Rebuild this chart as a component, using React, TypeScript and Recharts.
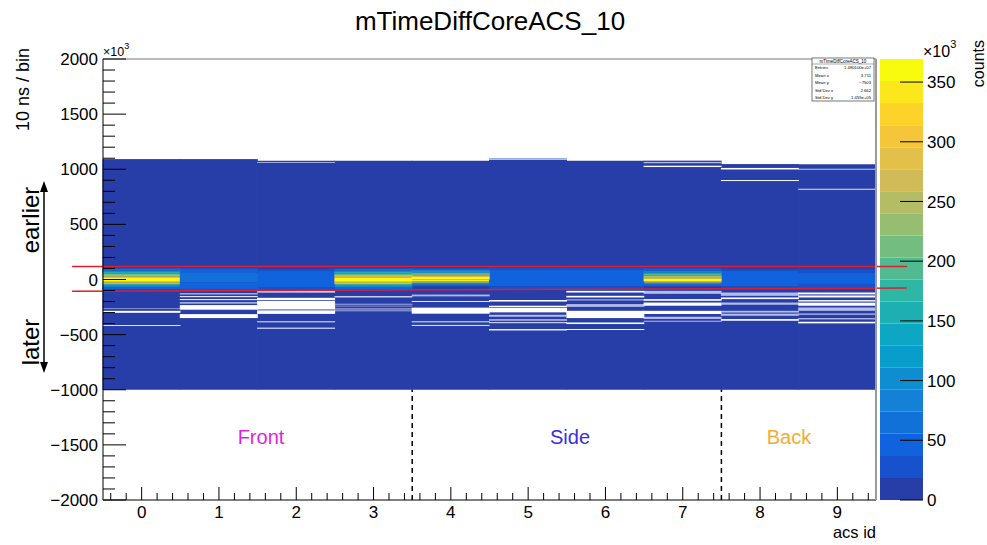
import React from 'react';
import { ComposedChart, BarChart, Bar, Cell, XAxis, YAxis, ReferenceLine } from 'recharts';

const W = 987;
const H = 545;
const FONT = '"Liberation Sans", Arial, Helvetica, sans-serif';

// ---------------- data ----------------
const acsIds = [0, 1, 2, 3, 4, 5, 6, 7, 8, 9];
const histBottom = -1000; // ×10³ (10 ns / bin)
const columnTop = [1092, 1092, 1077, 1077, 1077, 1098, 1077, 1078, 1047, 1045];

// cells: [yLow, yHigh, level]; level = contour level 0..19, 'w' = empty bin, 'l' = almost empty
type CellSpec = [number, number, number | 'w' | 'l'];

const col0Cells: CellSpec[] = [
  [-422, -414, 'w'], [-302, -284, 'w'], [-268, -262, 'l'],
  [-88, -70, 2], [-70, -55, 4], [-55, -42, 8], [-42, -28, 13], [-28, -15, 17], [-15, 15, 19],
  [15, 26, 17], [26, 40, 14], [40, 55, 11], [55, 68, 8], [68, 82, 5], [82, 100, 3],
];
const col1Cells: CellSpec[] = [
  [-350, -314, 'w'], [-274, -232, 'w'], [-217, -208, 'w'], [-187, -178, 'w'], [-160, -151, 'w'], [-136, -124, 'l'],
  [-103, -85, 1], [-85, -25, 2], [-25, 60, 3], [60, 95, 2], [95, 103, 1],
];
const col2Cells: CellSpec[] = [
  [-446, -437, 'w'], [-388, -380, 'w'], [-312, -280, 'w'], [-272, -195, 'w'], [-188, -166, 'w'], [-118, -106, 'w'],
  [-100, -70, 1], [-70, 80, 2], [80, 96, 1],
  [1058, 1066, 'l'],
];
const col3Cells: CellSpec[] = [
  [-288, -280, 'l'], [-272, -262, 'l'], [-244, -238, 'l'], [-228, -220, 'l'], [-162, -152, 'w'],
  [-88, -70, 2], [-70, -55, 5], [-55, -42, 9], [-42, -28, 14], [-28, -15, 18], [-15, 18, 19],
  [18, 30, 17], [30, 42, 14], [42, 55, 11], [55, 68, 8], [68, 82, 5], [82, 98, 3],
];
const col4Cells: CellSpec[] = [
  [-420, -412, 'w'], [-388, -380, 'w'], [-310, -255, 'w'], [-204, -196, 'w'], [-153, -148, 'l'], [-146, -138, 'w'],
  [-60, -45, 2], [-45, -30, 5], [-30, -15, 12], [-15, 0, 18], [0, 25, 19], [25, 35, 17],
  [35, 48, 13], [48, 62, 10], [62, 76, 7], [76, 90, 4], [90, 100, 2],
];
const col5Cells: CellSpec[] = [
  [-462, -450, 'w'], [-396, -388, 'w'], [-374, -360, 'l'], [-338, -320, 'l'], [-298, -256, 'w'], [-250, -238, 'w'], [-200, -186, 'w'],
  [-88, -60, 1], [-60, 90, 2], [90, 107, 1],
  [1084, 1098, 'l'],
];
const col6Cells: CellSpec[] = [
  [-458, -449, 'w'], [-404, -390, 'w'], [-350, -284, 'w'], [-248, -223, 'l'], [-190, -180, 'l'], [-163, -148, 'w'], [-118, -103, 'w'],
  [-88, -60, 1], [-60, 90, 2], [90, 107, 1],
];
const col7Cells: CellSpec[] = [
  [-383, -374, 'l'], [-358, -338, 'l'], [-313, -284, 'w'], [-238, -209, 'w'], [-193, -178, 'w'], [-130, -103, 'l'],
  [-60, -40, 2], [-40, -28, 6], [-28, -15, 14], [-15, 10, 19], [10, 20, 17], [20, 35, 13],
  [35, 50, 10], [50, 65, 7], [65, 80, 4], [80, 100, 2],
  [1020, 1032, 'w'], [1055, 1066, 'l'],
];
const col8Cells: CellSpec[] = [
  [-374, -359, 'w'], [-329, -310, 'l'], [-300, -284, 'l'], [-229, -209, 'l'], [-178, -163, 'w'], [-148, -118, 'l'],
  [-88, -60, 1], [-60, 80, 2], [80, 93, 1],
  [893, 902, 'w'], [998, 1012, 'w'],
];
const col9Cells: CellSpec[] = [
  [-398, -383, 'w'], [-362, -350, 'l'], [-320, -308, 'l'], [-284, -254, 'l'], [-238, -210, 'w'], [-200, -187, 'w'], [-163, -145, 'w'], [-135, -118, 'w'],
  [-88, -40, 1], [-40, 60, 2], [60, 93, 1],
  [815, 823, 'w'], [995, 1005, 'l'],
];
const columnCells = [col0Cells, col1Cells, col2Cells, col3Cells, col4Cells, col5Cells, col6Cells, col7Cells, col8Cells, col9Cells];

// ticks
const yMajorTicks = [-2000, -1500, -1000, -500, 0, 500, 1000, 1500, 2000];
const zTicks = [0, 50, 100, 150, 200, 250, 300, 350];
const zMax = 369.3; // ×10³ counts
const nLevels = 20;

// annotation lines (x in acs id, y in ×10³)
const cutLines = [
  [-0.9, 118, 9.9, 118],
  [-0.9, -106, 9.9, -78],
];
const groupBoundaries = [3.5, 7.5];

const statsRows = [
  ['Entries', '1.480100e+07'],
  ['Mean x', '3.711'],
  ['Mean y', '\u22127503'],
  ['Std Dev x', '2.662'],
  ['Std Dev y', '1.455e+05'],
];

// ---------------- colours (ROOT kBird palette) ----------------
const birdStops = [0, 0.125, 0.25, 0.375, 0.5, 0.625, 0.75, 0.875, 1];
const birdR = [0.2082, 0.0592, 0.078, 0.0232, 0.1802, 0.5301, 0.8186, 0.9956, 0.9764];
const birdG = [0.1664, 0.3599, 0.5041, 0.6419, 0.7178, 0.7492, 0.7328, 0.7862, 0.9832];
const birdB = [0.5293, 0.8684, 0.8385, 0.7914, 0.6425, 0.4662, 0.3499, 0.1968, 0.0539];
function bird(f: number) {
  let k = 0;
  while (k < birdStops.length - 2 && f > birdStops[k + 1]) k++;
  const t = (f - birdStops[k]) / (birdStops[k + 1] - birdStops[k]);
  const c = (a: number[]) => Math.round(255 * (a[k] + t * (a[k + 1] - a[k])));
  return `rgb(${c(birdR)},${c(birdG)},${c(birdB)})`;
}
function levelColor(i: number) {
  return bird(Math.floor(((i + 0.99) * 255) / nLevels) / 254);
}
const EMPTY = '#ffffff';
const PALE = '#b4bce8';
function cellColor(k: number | 'w' | 'l') {
  if (k === 'w') return EMPTY;
  if (k === 'l') return PALE;
  return levelColor(k);
}

// ---------------- build stacked tables ----------------
type Seg = { h: number; fill: string };
function buildSegments(cells: CellSpec[]): Seg[] {
  const sorted = [...cells].sort((a, b) => a[0] - b[0]);
  const segs: Seg[] = [];
  let cur = histBottom;
  for (const [lo, hi, k] of sorted) {
    const start = Math.max(lo, cur);
    if (start > cur) segs.push({ h: start - cur, fill: 'transparent' });
    if (hi > start) segs.push({ h: hi - start, fill: cellColor(k) });
    cur = Math.max(cur, hi);
  }
  return segs;
}
const segsByCol = columnCells.map(buildSegments);
const nSeg = Math.max(...segsByCol.map((s) => s.length));
const segKeys = Array.from({ length: nSeg }, (_, k) => `s${k}`);
const histData = acsIds.map((id, i) => {
  const row: Record<string, number> = {
    acs: id,
    baseA: histBottom,
    body: columnTop[i] - histBottom,
    baseB: histBottom,
  };
  segKeys.forEach((key, k) => {
    row[key] = segsByCol[i][k] ? segsByCol[i][k].h : 0;
  });
  return row;
});

const levelKeys = Array.from({ length: nLevels }, (_, i) => `z${i}`);
const paletteRow: Record<string, number | string> = { name: 'palette' };
levelKeys.forEach((k) => {
  paletteRow[k] = zMax / nLevels;
});
const paletteData = [paletteRow];

const xTickValues: number[] = [];
for (let k = -2; k <= 47; k++) xTickValues.push(k / 5);
const yTickValues: number[] = [];
for (let v = -2000; v <= 2000; v += 100) yTickValues.push(v);

const fmt = (v: number) => (v < 0 ? `\u2212${Math.abs(v)}` : `${v}`);

// bins are drawn slightly wider than the (integer-truncated) bar width so neighbouring bins touch
const BinShape = (p: any) => {
  if (!p || !(p.height > 0) || p.fill === 'transparent') return <g />;
  return <rect x={p.x - 0.5} y={p.y} width={p.width + 1} height={p.height} fill={p.fill} />;
};

// ---------------- tick renderers ----------------
const XTick = (props: any) => {
  const { x, y, payload } = props;
  const v = payload.value as number;
  const major = Math.abs(v - Math.round(v)) < 1e-6;
  return (
    <g>
      <line x1={x} x2={x} y1={y} y2={y - (major ? 13 : 7)} stroke="#000" strokeWidth={1} />
      {major && (
        <text x={x} y={y + 18} textAnchor="middle" fontSize={17} fontFamily={FONT} fill="#000">
          {Math.round(v)}
        </text>
      )}
    </g>
  );
};
const YTick = (props: any) => {
  const { x, y, payload } = props;
  const v = payload.value as number;
  const major = yMajorTicks.includes(v);
  return (
    <g>
      <line x1={x} x2={x + (major ? 23 : 12)} y1={y} y2={y} stroke="#000" strokeWidth={1} />
      {major && (
        <text x={x - 5} y={y} dy="0.36em" textAnchor="end" fontSize={17} fontFamily={FONT} fill="#000">
          {fmt(v)}
        </text>
      )}
    </g>
  );
};
const ZTick = (props: any) => {
  const { x, y, payload } = props;
  return (
    <g>
      <line x1={x} x2={x - 23} y1={y} y2={y} stroke="#000" strokeWidth={1} />
      <text x={x + 4} y={y} dy="0.36em" textAnchor="start" fontSize={17} fontFamily={FONT} fill="#000">
        {payload.value}
      </text>
    </g>
  );
};

export default function App() {
  return (
    <div style={{ position: 'absolute', left: 0, top: 0, width: W, height: H, background: '#fff' }}>
      <div style={{ position: 'absolute', left: 0, top: 0 }}>
        <BarChart
          width={W}
          height={H}
          data={paletteData}
          margin={{ top: 59, right: 63, bottom: 45, left: 880 }}
          barCategoryGap={0}
          barGap={0}
        >
          <XAxis dataKey="name" type="category" hide height={0} />
          <YAxis
            orientation="right"
            type="number"
            domain={[0, zMax]}
            ticks={zTicks}
            interval={0}
            width={1}
            tickSize={0}
            tickMargin={0}
            tickLine={false}
            axisLine={false}
            tick={ZTick}
            allowDataOverflow
          />
          {levelKeys.map((k, i) => (
            <Bar key={k} dataKey={k} stackId="z" fill={levelColor(i)} isAnimationActive={false} />
          ))}
        </BarChart>
      </div>
      <div style={{ position: 'absolute', left: 0, top: 0 }}>
        <ComposedChart
          width={W}
          height={H}
          data={histData}
          margin={{ top: 58, right: 110, bottom: 44, left: 102 }}
          barCategoryGap={0}
          barGap={0}
        >
          <XAxis
            xAxisId="num"
            dataKey="acs"
            type="number"
            domain={[-0.5, 9.5]}
            ticks={xTickValues}
            interval={0}
            height={1}
            tickSize={0}
            tickMargin={0}
            tickLine={false}
            tick={XTick}
            axisLine={{ stroke: '#000', strokeWidth: 1 }}
            allowDataOverflow
          />
          <XAxis xAxisId="catA" dataKey="acs" type="category" hide height={0} />
          <XAxis xAxisId="catB" dataKey="acs" type="category" hide height={0} />
          <XAxis
            xAxisId="frameTop"
            dataKey="acs"
            orientation="top"
            type="number"
            domain={[-0.5, 9.5]}
            height={1}
            tick={false}
            tickLine={false}
            axisLine={{ stroke: '#777', strokeWidth: 1 }}
            allowDataOverflow
          />
          <YAxis
            yAxisId="y"
            type="number"
            domain={[-2000, 2000]}
            ticks={yTickValues}
            interval={0}
            width={1}
            tickSize={0}
            tickMargin={0}
            tickLine={false}
            tick={YTick}
            axisLine={{ stroke: '#000', strokeWidth: 1 }}
            allowDataOverflow
          />
          <YAxis
            yAxisId="frameRight"
            orientation="right"
            type="number"
            domain={[-2000, 2000]}
            width={1}
            tick={false}
            tickLine={false}
            axisLine={{ stroke: '#9a9a9a', strokeWidth: 2 }}
            allowDataOverflow
          />
          <Bar xAxisId="catA" yAxisId="y" stackId="A" dataKey="baseA" fill="transparent" isAnimationActive={false} />
          <Bar
            xAxisId="catA"
            yAxisId="y"
            stackId="A"
            dataKey="body"
            fill={levelColor(0)}
            shape={BinShape}
            isAnimationActive={false}
          />
          <Bar xAxisId="catB" yAxisId="y" stackId="B" dataKey="baseB" fill="transparent" isAnimationActive={false} />
          {segKeys.map((key, k) => (
            <Bar key={key} xAxisId="catB" yAxisId="y" stackId="B" dataKey={key} shape={BinShape} isAnimationActive={false}>
              {acsIds.map((_, i) => (
                <Cell key={i} fill={segsByCol[i][k] ? segsByCol[i][k].fill : 'transparent'} />
              ))}
            </Bar>
          ))}
          {cutLines.map((l, i) => (
            <ReferenceLine
              key={`cut${i}`}
              xAxisId="num"
              yAxisId="y"
              segment={[
                { x: l[0], y: l[1] },
                { x: l[2], y: l[3] },
              ]}
              stroke="#dd1f30"
              strokeWidth={1.5}
              ifOverflow="visible"
            />
          ))}
          {groupBoundaries.map((b, i) => (
            <ReferenceLine
              key={`grp${i}`}
              xAxisId="num"
              yAxisId="y"
              segment={[
                { x: b, y: -2000 },
                { x: b, y: histBottom },
              ]}
              stroke="#000"
              strokeWidth={1.5}
              strokeDasharray="5 4"
              ifOverflow="visible"
            />
          ))}
        </ComposedChart>
      </div>
      <svg width={W} height={H} style={{ position: 'absolute', left: 0, top: 0, pointerEvents: 'none' }} fontFamily={FONT}>
        <text x={490} y={30} textAnchor="middle" fontSize={26} fill="#000">
          mTimeDiffCoreACS_10
        </text>
        <text x={103} y={55.5} fontSize={12.5} fill="#000">
          ×10<tspan dy={-7} fontSize={9}>3</tspan>
        </text>
        <text x={923} y={56.5} fontSize={16} fill="#000">
          ×10<tspan dy={-9} fontSize={11}>3</tspan>
        </text>
        <text x={29} y={48} fontSize={18} textAnchor="end" transform="rotate(-90 29 48)" fill="#000">
          10 ns / bin
        </text>
        <text x={984} y={40} fontSize={16} textAnchor="end" transform="rotate(-90 984 40)" fill="#000">
          counts
        </text>
        <text x={876} y={538} fontSize={16.5} textAnchor="end" fill="#000">
          acs id
        </text>
        <text x={39} y={220} fontSize={24} textAnchor="middle" transform="rotate(-90 39 220)" fill="#000">
          earlier
        </text>
        <text x={39} y={342} fontSize={24} textAnchor="middle" transform="rotate(-90 39 342)" fill="#000">
          later
        </text>
        <line x1={44} x2={44} y1={188} y2={366} stroke="#000" strokeWidth={1.5} />
        <polygon points="44,181 40,192 48,192" fill="#000" />
        <polygon points="44,373 40,362 48,362" fill="#000" />
        <text x={261} y={444} fontSize={20} textAnchor="middle" fill="#e21fe0">
          Front
        </text>
        <text x={570} y={444} fontSize={20} textAnchor="middle" fill="#3a2fe0">
          Side
        </text>
        <text x={789} y={444} fontSize={20} textAnchor="middle" fill="#f5ad2e">
          Back
        </text>
        <g>
          <rect x={812} y={58} width={62} height={43} fill="#fff" stroke="#555" strokeWidth={0.8} />
          <line x1={812} x2={874} y1={64} y2={64} stroke="#555" strokeWidth={0.5} />
          <text x={843} y={62.5} fontSize={4.5} textAnchor="middle" fill="#000">
            mTimeDiffCoreACS_10
          </text>
          {statsRows.map((r, i) => (
            <g key={r[0]}>
              <text x={815} y={69.3 + i * 7.4} fontSize={4.2} fill="#000">
                {r[0]}
              </text>
              <text x={871} y={69.3 + i * 7.4} fontSize={4.2} textAnchor="end" fill="#000">
                {r[1]}
              </text>
            </g>
          ))}
        </g>
      </svg>
    </div>
  );
}
